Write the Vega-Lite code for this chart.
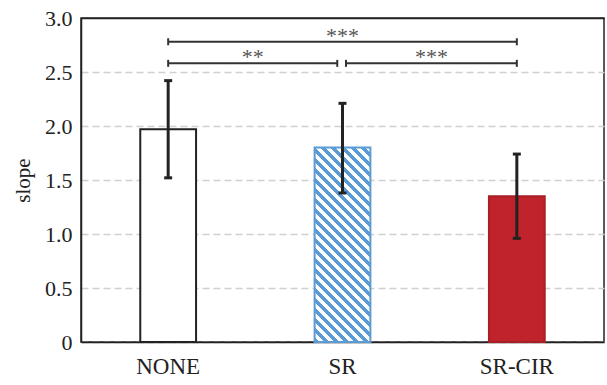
{
  "$schema": "https://vega.github.io/schema/vega-lite/v6.json",
  "width": 523,
  "height": 324,
  "autosize": "none",
  "padding": {"left": 81, "top": 18, "right": 3, "bottom": 43},
  "config": {
    "view": {"stroke": "#222", "strokeWidth": 1.5},
    "font": "Liberation Serif",
    "axis": {
      "labelFont": "Liberation Serif",
      "titleFont": "Liberation Serif",
      "labelColor": "#222",
      "titleColor": "#222",
      "domainColor": "#222",
      "domainWidth": 1.5,
      "ticks": false,
      "tickSize": 0
    }
  },
  "datasets": {
    "bars": [
      {"group": "NONE", "slope": 1.97, "lo": 1.52, "hi": 2.42},
      {"group": "SR", "slope": 1.80, "lo": 1.38, "hi": 2.21},
      {"group": "SR-CIR", "slope": 1.35, "lo": 0.96, "hi": 1.74}
    ],
    "sig": [
      {"x1": 0.5, "x2": 2.5, "y": 2.78, "tx": 1.5, "label": "***"},
      {"x1": 0.5, "x2": 1.47, "y": 2.58, "tx": 0.985, "label": "**"},
      {"x1": 1.52, "x2": 2.5, "y": 2.58, "tx": 2.01, "label": "***"}
    ]
  },
  "layer": [
    {
      "data": {"name": "bars"},
      "encoding": {
        "x": {
          "field": "group",
          "type": "nominal",
          "scale": {"domain": ["NONE", "SR", "SR-CIR"], "paddingInner": 0.68, "paddingOuter": 0.34},
          "axis": {"title": null, "labelAngle": 0, "labelFontSize": 23, "labelPadding": 13, "grid": false}
        }
      },
      "layer": [
        {
          "transform": [{"filter": "datum.group === 'NONE'"}],
          "mark": {"type": "bar", "fill": "white", "stroke": "#222", "strokeWidth": 2},
          "encoding": {
            "y": {
              "field": "slope",
              "type": "quantitative",
              "scale": {"domain": [0, 3], "nice": false},
              "axis": {
                "title": "slope",
                "values": [0, 0.5, 1, 1.5, 2, 2.5, 3],
                "labelExpr": "datum.value == 0 ? '0' : format(datum.value, '.1f')",
                "labelFontSize": 22,
                "titleFontSize": 21,
                "titleFontWeight": "normal",
                "labelPadding": 9,
                "titlePadding": 11,
                "grid": true,
                "gridColor": {"condition": {"test": "datum.value >= 3", "value": "#222"}, "value": "#d0d0d0"},
                "gridDash": {"condition": {"test": "datum.value >= 3", "value": []}, "value": [7, 4]},
                "gridWidth": 1.5
              }
            }
          }
        },
        {
          "transform": [{"filter": "datum.group === 'SR'"}],
          "mark": {
            "type": "bar",
            "stroke": "#5b9bd5",
            "strokeWidth": 2,
            "fill": {
              "gradient": "linear",
              "x1": 0, "y1": 1, "x2": 0.3413, "y2": -0.1891,
              "stops": [
                {"offset": 0, "color": "#5b9bd5"}, {"offset": 0.018, "color": "#5b9bd5"}, {"offset": 0.018, "color": "#ffffff"}, {"offset": 0.04, "color": "#ffffff"},
                {"offset": 0.04, "color": "#5b9bd5"}, {"offset": 0.058, "color": "#5b9bd5"}, {"offset": 0.058, "color": "#ffffff"}, {"offset": 0.08, "color": "#ffffff"},
                {"offset": 0.08, "color": "#5b9bd5"}, {"offset": 0.098, "color": "#5b9bd5"}, {"offset": 0.098, "color": "#ffffff"}, {"offset": 0.12, "color": "#ffffff"},
                {"offset": 0.12, "color": "#5b9bd5"}, {"offset": 0.138, "color": "#5b9bd5"}, {"offset": 0.138, "color": "#ffffff"}, {"offset": 0.16, "color": "#ffffff"},
                {"offset": 0.16, "color": "#5b9bd5"}, {"offset": 0.178, "color": "#5b9bd5"}, {"offset": 0.178, "color": "#ffffff"}, {"offset": 0.2, "color": "#ffffff"},
                {"offset": 0.2, "color": "#5b9bd5"}, {"offset": 0.218, "color": "#5b9bd5"}, {"offset": 0.218, "color": "#ffffff"}, {"offset": 0.24, "color": "#ffffff"},
                {"offset": 0.24, "color": "#5b9bd5"}, {"offset": 0.258, "color": "#5b9bd5"}, {"offset": 0.258, "color": "#ffffff"}, {"offset": 0.28, "color": "#ffffff"},
                {"offset": 0.28, "color": "#5b9bd5"}, {"offset": 0.298, "color": "#5b9bd5"}, {"offset": 0.298, "color": "#ffffff"}, {"offset": 0.32, "color": "#ffffff"},
                {"offset": 0.32, "color": "#5b9bd5"}, {"offset": 0.338, "color": "#5b9bd5"}, {"offset": 0.338, "color": "#ffffff"}, {"offset": 0.36, "color": "#ffffff"},
                {"offset": 0.36, "color": "#5b9bd5"}, {"offset": 0.378, "color": "#5b9bd5"}, {"offset": 0.378, "color": "#ffffff"}, {"offset": 0.4, "color": "#ffffff"},
                {"offset": 0.4, "color": "#5b9bd5"}, {"offset": 0.418, "color": "#5b9bd5"}, {"offset": 0.418, "color": "#ffffff"}, {"offset": 0.44, "color": "#ffffff"},
                {"offset": 0.44, "color": "#5b9bd5"}, {"offset": 0.458, "color": "#5b9bd5"}, {"offset": 0.458, "color": "#ffffff"}, {"offset": 0.48, "color": "#ffffff"},
                {"offset": 0.48, "color": "#5b9bd5"}, {"offset": 0.498, "color": "#5b9bd5"}, {"offset": 0.498, "color": "#ffffff"}, {"offset": 0.52, "color": "#ffffff"},
                {"offset": 0.52, "color": "#5b9bd5"}, {"offset": 0.538, "color": "#5b9bd5"}, {"offset": 0.538, "color": "#ffffff"}, {"offset": 0.56, "color": "#ffffff"},
                {"offset": 0.56, "color": "#5b9bd5"}, {"offset": 0.578, "color": "#5b9bd5"}, {"offset": 0.578, "color": "#ffffff"}, {"offset": 0.6, "color": "#ffffff"},
                {"offset": 0.6, "color": "#5b9bd5"}, {"offset": 0.618, "color": "#5b9bd5"}, {"offset": 0.618, "color": "#ffffff"}, {"offset": 0.64, "color": "#ffffff"},
                {"offset": 0.64, "color": "#5b9bd5"}, {"offset": 0.658, "color": "#5b9bd5"}, {"offset": 0.658, "color": "#ffffff"}, {"offset": 0.68, "color": "#ffffff"},
                {"offset": 0.68, "color": "#5b9bd5"}, {"offset": 0.698, "color": "#5b9bd5"}, {"offset": 0.698, "color": "#ffffff"}, {"offset": 0.72, "color": "#ffffff"},
                {"offset": 0.72, "color": "#5b9bd5"}, {"offset": 0.738, "color": "#5b9bd5"}, {"offset": 0.738, "color": "#ffffff"}, {"offset": 0.76, "color": "#ffffff"},
                {"offset": 0.76, "color": "#5b9bd5"}, {"offset": 0.778, "color": "#5b9bd5"}, {"offset": 0.778, "color": "#ffffff"}, {"offset": 0.8, "color": "#ffffff"},
                {"offset": 0.8, "color": "#5b9bd5"}, {"offset": 0.818, "color": "#5b9bd5"}, {"offset": 0.818, "color": "#ffffff"}, {"offset": 0.84, "color": "#ffffff"},
                {"offset": 0.84, "color": "#5b9bd5"}, {"offset": 0.858, "color": "#5b9bd5"}, {"offset": 0.858, "color": "#ffffff"}, {"offset": 0.88, "color": "#ffffff"},
                {"offset": 0.88, "color": "#5b9bd5"}, {"offset": 0.898, "color": "#5b9bd5"}, {"offset": 0.898, "color": "#ffffff"}, {"offset": 0.92, "color": "#ffffff"},
                {"offset": 0.92, "color": "#5b9bd5"}, {"offset": 0.938, "color": "#5b9bd5"}, {"offset": 0.938, "color": "#ffffff"}, {"offset": 0.96, "color": "#ffffff"},
                {"offset": 0.96, "color": "#5b9bd5"}, {"offset": 0.978, "color": "#5b9bd5"}, {"offset": 0.978, "color": "#ffffff"}, {"offset": 1, "color": "#ffffff"}
              ]
            }
          },
          "encoding": {"y": {"field": "slope", "type": "quantitative", "title": "slope"}}
        },
        {
          "transform": [{"filter": "datum.group === 'SR-CIR'"}],
          "mark": {"type": "bar", "fill": "#c0232b", "stroke": "#a81f25", "strokeWidth": 2},
          "encoding": {"y": {"field": "slope", "type": "quantitative", "title": "slope"}}
        },
        {
          "mark": {"type": "rule", "color": "#222", "strokeWidth": 3},
          "encoding": {
            "y": {"field": "lo", "type": "quantitative", "title": "slope"},
            "y2": {"field": "hi"}
          }
        },
        {
          "mark": {"type": "tick", "color": "#222", "size": 8, "thickness": 3, "opacity": 1},
          "encoding": {"y": {"field": "lo", "type": "quantitative", "title": "slope"}}
        },
        {
          "mark": {"type": "tick", "color": "#222", "size": 8, "thickness": 3, "opacity": 1},
          "encoding": {"y": {"field": "hi", "type": "quantitative", "title": "slope"}}
        }
      ]
    },
    {
      "data": {"name": "sig"},
      "layer": [
        {
          "mark": {"type": "rule", "color": "#333", "strokeWidth": 2},
          "encoding": {
            "x": {
              "field": "x1",
              "type": "quantitative",
              "scale": {"domain": [0, 3], "nice": false, "zero": false},
              "axis": null
            },
            "x2": {"field": "x2"},
            "y": {"field": "y", "type": "quantitative", "title": "slope"}
          }
        },
        {
          "transform": [{"fold": ["x1", "x2"], "as": ["end", "xe"]}],
          "mark": {"type": "point", "shape": "stroke", "angle": 90, "size": 49, "strokeWidth": 2, "color": "#333", "filled": false, "opacity": 1},
          "encoding": {
            "x": {"field": "xe", "type": "quantitative", "scale": {"domain": [0, 3], "nice": false, "zero": false}},
            "y": {"field": "y", "type": "quantitative", "title": "slope"}
          }
        },
        {
          "mark": {"type": "text", "fontSize": 22, "color": "#555", "baseline": "alphabetic", "font": "Liberation Serif", "dy": 1},
          "encoding": {
            "x": {"field": "tx", "type": "quantitative", "scale": {"domain": [0, 3], "nice": false, "zero": false}},
            "y": {"field": "y", "type": "quantitative", "title": "slope"},
            "text": {"field": "label"}
          }
        }
      ]
    }
  ],
  "resolve": {"scale": {"x": "independent"}}
}
